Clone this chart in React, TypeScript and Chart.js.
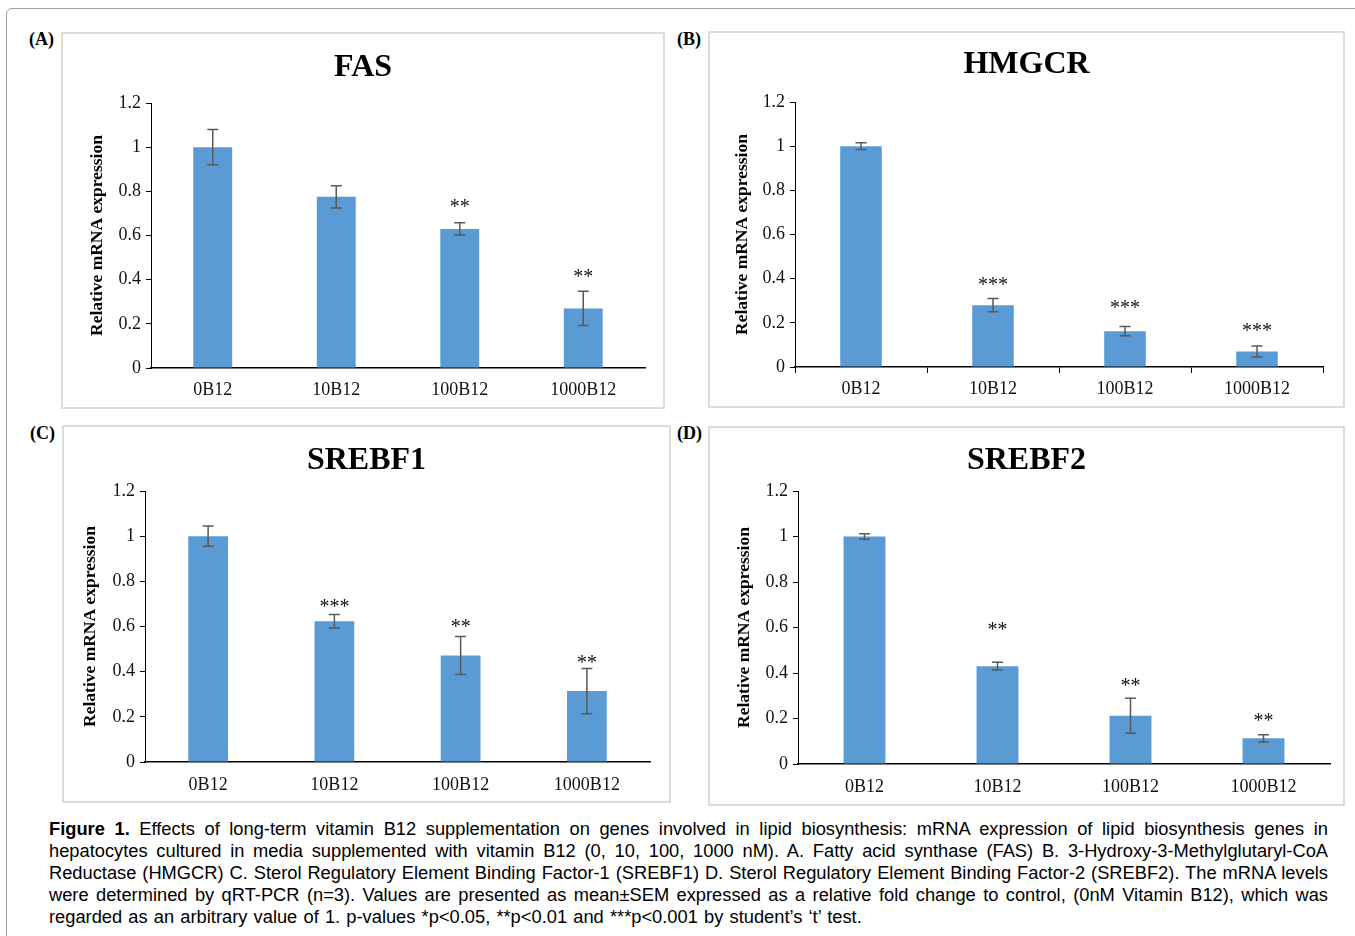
import React, { useEffect, useRef } from 'react';
import { Chart, registerables } from 'chart.js';

Chart.register(...registerables);

// ---------- data ----------
const categories = ['0B12', '10B12', '100B12', '1000B12'];
const yTickValues = [0, 0.2, 0.4, 0.6, 0.8, 1, 1.2];
const yTickLabels = ['0', '0.2', '0.4', '0.6', '0.8', '1', '1.2'];
const yAxisTitle = 'Relative mRNA expression';

const fasValues = [1.0, 0.775, 0.63, 0.27];
const fasErrors = [0.08, 0.05, 0.028, 0.077];
const fasSig = ['', '', '**', '**'];
const fasSigY = [null, null, 0.743, 0.43];

const hmgcrValues = [1.0, 0.28, 0.162, 0.07];
const hmgcrErrors = [0.015, 0.03, 0.021, 0.025];
const hmgcrSig = ['', '***', '***', '***'];
const hmgcrSigY = [null, 0.385, 0.281, 0.181];

const srebf1Values = [1.0, 0.623, 0.472, 0.314];
const srebf1Errors = [0.045, 0.03, 0.084, 0.1];
const srebf1Sig = ['', '***', '**', '**'];
const srebf1SigY = [null, 0.7, 0.615, 0.453];

const srebf2Values = [1.0, 0.43, 0.212, 0.113];
const srebf2Errors = [0.012, 0.017, 0.077, 0.016];
const srebf2Sig = ['', '**', '**', '**'];
const srebf2SigY = [null, 0.604, 0.36, 0.203];

const captionLines = [
  'Effects of long-term vitamin B12 supplementation on genes involved in lipid biosynthesis: mRNA expression of lipid biosynthesis genes in',
  'hepatocytes cultured in media supplemented with vitamin B12 (0, 10, 100, 1000 nM). A. Fatty acid synthase (FAS) B. 3-Hydroxy-3-Methylglutaryl-CoA',
  'Reductase (HMGCR) C. Sterol Regulatory Element Binding Factor-1 (SREBF1) D. Sterol Regulatory Element Binding Factor-2 (SREBF2). The mRNA levels',
  'were determined by qRT-PCR (n=3). Values are presented as mean\u00B1SEM expressed as a relative fold change to control, (0nM Vitamin B12), which was',
  'regarded as an arbitrary value of 1. p-values *p<0.05, **p<0.01 and ***p<0.001 by student\u2019s \u2018t\u2019 test.',
];

// ---------- layout ----------
const SERIF = '"Liberation Serif", "Times New Roman", serif';
const SANS = '"Liberation Sans", Arial, sans-serif';

type PanelDef = {
  letter: string;
  title: string;
  values: number[];
  errors: number[];
  sig: string[];
  sigY: (number | null)[];
  left: number; top: number; w: number; h: number;
  chartLeft: number; chartRight: number; chartTop: number; chartBottom: number;
  yTitleX: number; titleY: number;
  xTicks: boolean; xPad: number;
  letterX: number; letterY: number;
};

const panels: PanelDef[] = [
  {
    letter: '(A)', title: 'FAS', values: fasValues, errors: fasErrors, sig: fasSig, sigY: fasSigY,
    left: 61, top: 32, w: 604, h: 377,
    chartLeft: 151, chartRight: 645, chartTop: 103, chartBottom: 368,
    yTitleX: 97, titleY: 65, xTicks: false, xPad: 11, letterX: 29, letterY: 40,
  },
  {
    letter: '(B)', title: 'HMGCR', values: hmgcrValues, errors: hmgcrErrors, sig: hmgcrSig, sigY: hmgcrSigY,
    left: 708, top: 31, w: 637, h: 377,
    chartLeft: 795, chartRight: 1323, chartTop: 102, chartBottom: 367,
    yTitleX: 742, titleY: 62, xTicks: true, xPad: 5, letterX: 677, letterY: 40,
  },
  {
    letter: '(C)', title: 'SREBF1', values: srebf1Values, errors: srebf1Errors, sig: srebf1Sig, sigY: srebf1SigY,
    left: 62, top: 425, w: 609, h: 378,
    chartLeft: 145, chartRight: 650, chartTop: 491, chartBottom: 762,
    yTitleX: 90, titleY: 458, xTicks: false, xPad: 12, letterX: 30, letterY: 434,
  },
  {
    letter: '(D)', title: 'SREBF2', values: srebf2Values, errors: srebf2Errors, sig: srebf2Sig, sigY: srebf2SigY,
    left: 708, top: 426, w: 637, h: 380,
    chartLeft: 798, chartRight: 1330, chartTop: 491, chartBottom: 764,
    yTitleX: 744, titleY: 458, xTicks: false, xPad: 12, letterX: 677, letterY: 434,
  },
];

const decoPlugin = {
  id: 'deco',
  afterDatasetsDraw(chart: any, _args: any, opts: any) {
    const { ctx } = chart;
    const y = chart.scales.y;
    const meta = chart.getDatasetMeta(0);
    const data = chart.data.datasets[0].data as number[];
    ctx.save();
    // error bars
    ctx.strokeStyle = '#595959';
    ctx.lineWidth = 1.5;
    const cap = 5.5;
    (opts.errors as number[]).forEach((e, i) => {
      const px = meta.data[i].x;
      const yt = y.getPixelForValue(data[i] + e);
      const yb = y.getPixelForValue(data[i] - e);
      ctx.beginPath();
      ctx.moveTo(px, yt); ctx.lineTo(px, yb);
      ctx.moveTo(px - cap, yt); ctx.lineTo(px + cap, yt);
      ctx.moveTo(px - cap, yb); ctx.lineTo(px + cap, yb);
      ctx.stroke();
    });
    // significance stars
    ctx.fillStyle = '#111';
    ctx.font = `20px ${SERIF}`;
    ctx.textAlign = 'center';
    ctx.textBaseline = 'alphabetic';
    (opts.sig as string[]).forEach((s, i) => {
      const v = opts.sigY[i];
      if (!s || v == null) return;
      const py = y.getPixelForValue(v);
      ctx.fillText(s, meta.data[i].x, py + 9.5);
    });
    // title
    ctx.fillStyle = '#000';
    ctx.font = `bold 32px ${SERIF}`;
    ctx.textBaseline = 'middle';
    ctx.fillText(opts.title, chart.width / 2, opts.titleY + 3);
    ctx.restore();
  },
};

function tickLabel(v: number) {
  const idx = yTickValues.findIndex((t) => Math.abs(t - v) < 1e-6);
  return idx >= 0 ? yTickLabels[idx] : '';
}

function Panel({ p }: { p: PanelDef }) {
  const ref = useRef<HTMLCanvasElement | null>(null);
  useEffect(() => {
    if (!ref.current) return;
    const cl = p.chartLeft - p.left;
    const cr = p.chartRight - p.left;
    const ct = p.chartTop - p.top;
    const cb = p.chartBottom - p.top;
    const yTitleSize = 17.5;
    const chart = new Chart(ref.current, {
      type: 'bar',
      data: {
        labels: categories,
        datasets: [
          {
            data: p.values,
            backgroundColor: '#5B9BD5',
            borderWidth: 0,
            barPercentage: 0.315,
            categoryPercentage: 1,
          },
        ],
      },
      plugins: [decoPlugin],
      options: {
        animation: false,
        responsive: false,
        maintainAspectRatio: false,
        devicePixelRatio: 1,
        events: [],
        layout: { padding: { left: 0, right: p.w - cr, top: ct, bottom: 0 } },
        plugins: {
          legend: { display: false },
          tooltip: { enabled: false },
          title: { display: false },
          deco: {
            errors: p.errors,
            sig: p.sig,
            sigY: p.sigY,
            title: p.title,
            titleY: p.titleY - p.top,
          },
        } as any,
        scales: {
          x: {
            type: 'category',
            offset: true,
            afterFit: (s: any) => { s.height = p.h - cb; },
            grid: p.xTicks
              ? { display: true, drawOnChartArea: false, drawTicks: true, tickLength: 6, color: '#000', lineWidth: 1, offset: true }
              : { display: false, drawTicks: false },
            border: { display: true, color: '#000', width: 1.5 },
            ticks: {
              color: '#111',
              font: { family: SERIF, size: 18 },
              padding: p.xPad,
              maxRotation: 0,
              autoSkip: false,
            },
          },
          y: {
            type: 'linear',
            min: 0,
            max: 1.2,
            afterFit: (s: any) => { s.width = cl; },
            afterBuildTicks: (s: any) => { s.ticks = yTickValues.map((v) => ({ value: v })); },
            grid: { display: true, drawOnChartArea: false, drawTicks: true, tickLength: 5, color: '#000', lineWidth: 1 },
            border: { display: true, color: '#000', width: 1 },
            ticks: {
              color: '#111',
              font: { family: SERIF, size: 18 },
              padding: 5,
              callback: (v: any) => tickLabel(Number(v)),
            },
            title: {
              display: true,
              text: yAxisTitle,
              color: '#000',
              font: { family: SERIF, size: yTitleSize, weight: 'bold' },
              padding: { top: p.yTitleX - p.left - (yTitleSize * 1.2) / 2, bottom: 0 },
            },
          },
        },
      } as any,
    });
    return () => chart.destroy();
  }, [p]);

  return (
    <>
      <canvas
        ref={ref}
        width={p.w}
        height={p.h}
        style={{ position: 'absolute', left: p.left, top: p.top, width: p.w, height: p.h }}
      />
      <div
        style={{
          position: 'absolute', left: p.left, top: p.top, width: p.w, height: p.h,
          boxSizing: 'border-box', border: '2px solid #dcdcdc', pointerEvents: 'none',
        }}
      />
      <div
        style={{
          position: 'absolute', left: p.letterX, top: p.letterY - 10.5,
          fontFamily: SERIF, fontWeight: 'bold', fontSize: 18, lineHeight: '18px',
          color: '#000', whiteSpace: 'nowrap',
        }}
      >
        {p.letter}
      </div>
    </>
  );
}

export default function App() {
  return (
    <div
      style={{
        position: 'absolute', left: 0, top: 0, width: 1355, height: 936,
        overflow: 'hidden', background: '#fff',
      }}
    >
      <div
        style={{
          position: 'absolute', left: 6, top: 8, width: 1380, height: 960,
          border: '1.5px solid #a0a0a0', borderRadius: 6, boxSizing: 'border-box',
        }}
      />
      {panels.map((p) => (
        <Panel key={p.letter} p={p} />
      ))}
      <div
        style={{
          position: 'absolute', left: 49, top: 818, width: 1279,
          fontFamily: SANS, fontSize: 18.3, lineHeight: '22px', color: '#000',
        }}
      >
        {captionLines.map((line, i) => {
          const last = i === captionLines.length - 1;
          return (
            <div
              key={i}
              style={{
                whiteSpace: 'nowrap',
                textAlign: last ? 'left' : 'justify',
                textAlignLast: last ? 'left' : 'justify',
                wordSpacing: last ? '1.1px' : undefined,
              } as any}
            >
              {i === 0 ? <b>Figure 1. </b> : null}
              {line}
            </div>
          );
        })}
      </div>
    </div>
  );
}
